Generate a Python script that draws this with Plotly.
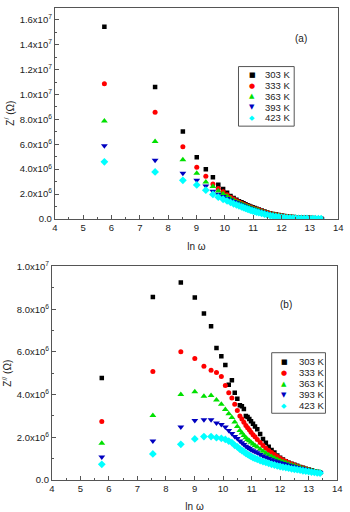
import plotly.graph_objects as go

# ln(omega) positions (shared by every series)
ln_omega = [5.75, 7.54, 8.52, 9.01, 9.33, 9.58, 9.77, 9.94, 10.08, 10.20, 10.31, 10.41,
            10.50, 10.59, 10.66, 10.73, 10.80, 10.86, 10.92, 10.98, 11.05, 11.12, 11.20,
            11.3, 11.4, 11.5, 11.6, 11.7, 11.8, 11.9, 12.0, 12.1, 12.2, 12.3, 12.4, 12.5,
            12.6, 12.7, 12.8, 12.9, 13.0, 13.1, 13.2, 13.3, 13.4]

temps = ["303 K", "333 K", "363 K", "393 K", "423 K"]

# (a) Z' in units of 1e6 Ohm
zr_303 = [15.45, 10.6, 7.03, 4.96, 3.99, 3.36, 2.75, 2.40, 2.10, 1.85, 1.68, 1.55, 1.43, 1.33, 1.25,
          1.17, 1.10, 1.04, 0.98, 0.93, 0.87, 0.81, 0.75, 0.67, 0.59, 0.52, 0.46, 0.40, 0.35, 0.31,
          0.27, 0.24, 0.21, 0.18, 0.16, 0.14, 0.12, 0.11, 0.10, 0.09, 0.08, 0.07, 0.06, 0.05, 0.04]
zr_333 = [10.86, 8.58, 5.80, 4.15, 3.44, 2.81, 2.45, 2.18, 1.95, 1.75, 1.60, 1.47, 1.36, 1.26, 1.18,
          1.11, 1.04, 0.98, 0.93, 0.88, 0.82, 0.77, 0.71, 0.63, 0.56, 0.49, 0.43, 0.38, 0.33, 0.29,
          0.25, 0.22, 0.19, 0.17, 0.15, 0.13, 0.11, 0.10, 0.09, 0.08, 0.07, 0.06, 0.05, 0.04, 0.04]
zr_363 = [7.87, 6.22, 4.75, 3.67, 2.97, 2.60, 2.25, 2.02, 1.83, 1.65, 1.51, 1.39, 1.29, 1.20, 1.12,
          1.05, 0.99, 0.93, 0.88, 0.83, 0.78, 0.73, 0.67, 0.60, 0.53, 0.46, 0.40, 0.35, 0.31, 0.27,
          0.23, 0.20, 0.17, 0.15, 0.13, 0.11, 0.10, 0.09, 0.08, 0.07, 0.06, 0.05, 0.05, 0.04, 0.03]
zr_393 = [5.88, 4.72, 3.67, 3.10, 2.65, 2.23, 1.98, 1.80, 1.65, 1.52, 1.40, 1.30, 1.20, 1.12, 1.05,
          0.98, 0.92, 0.87, 0.82, 0.77, 0.72, 0.67, 0.62, 0.55, 0.49, 0.43, 0.37, 0.32, 0.28, 0.24,
          0.21, 0.18, 0.16, 0.14, 0.12, 0.10, 0.09, 0.08, 0.07, 0.06, 0.05, 0.05, 0.04, 0.03, 0.03]
zr_423 = [4.59, 3.78, 3.10, 2.73, 2.31, 1.97, 1.75, 1.58, 1.45, 1.33, 1.22, 1.13, 1.05, 0.97, 0.91,
          0.85, 0.79, 0.74, 0.69, 0.65, 0.60, 0.55, 0.50, 0.44, 0.38, 0.32, 0.27, 0.22, 0.19, 0.16,
          0.13, 0.11, 0.09, 0.08, 0.07, 0.06, 0.05, 0.05, 0.04, 0.04, 0.03, 0.03, 0.02, 0.02, 0.02]

# (b) Z'' in units of 1e6 Ohm
zi_303 = [4.78, 8.57, 9.25, 8.55, 7.80, 7.20, 6.18, 5.79, 5.38, 4.46, 4.67, 4.08, 3.80, 3.50, 3.45,
          3.32, 3.00, 2.95, 2.86, 2.75, 2.63, 2.50, 2.38, 2.15, 1.92, 1.74, 1.55, 1.40, 1.28, 1.15,
          1.04, 0.96, 0.88, 0.81, 0.76, 0.71, 0.66, 0.61, 0.57, 0.52, 0.49, 0.45, 0.41, 0.38, 0.35]
zi_333 = [2.74, 5.08, 6.00, 5.69, 5.33, 5.14, 5.03, 4.85, 4.42, 4.08, 3.84, 3.55, 3.25, 3.00, 2.85,
          2.70, 2.55, 2.45, 2.35, 2.24, 2.12, 2.02, 1.90, 1.75, 1.61, 1.49, 1.38, 1.28, 1.19, 1.10,
          1.02, 0.94, 0.87, 0.80, 0.75, 0.70, 0.64, 0.60, 0.56, 0.51, 0.47, 0.43, 0.39, 0.36, 0.33]
zi_363 = [1.72, 3.02, 4.00, 4.13, 3.92, 3.95, 3.75, 3.55, 3.30, 3.10, 2.92, 2.72, 2.50, 2.32, 2.20,
          2.08, 1.98, 1.90, 1.84, 1.76, 1.68, 1.61, 1.54, 1.44, 1.34, 1.25, 1.17, 1.10, 1.03, 0.96,
          0.90, 0.85, 0.80, 0.75, 0.70, 0.66, 0.62, 0.58, 0.54, 0.50, 0.47, 0.44, 0.41, 0.38, 0.36]
zi_393 = [1.08, 1.83, 2.48, 2.78, 2.82, 2.82, 2.67, 2.60, 2.48, 2.32, 2.18, 2.04, 1.94, 1.82, 1.74,
          1.66, 1.58, 1.52, 1.47, 1.42, 1.37, 1.32, 1.27, 1.19, 1.12, 1.06, 1.00, 0.95, 0.90, 0.85,
          0.81, 0.77, 0.73, 0.69, 0.65, 0.62, 0.58, 0.55, 0.52, 0.49, 0.46, 0.43, 0.40, 0.37, 0.35]
zi_423 = [0.73, 1.22, 1.67, 1.92, 2.03, 2.03, 1.98, 1.95, 1.90, 1.82, 1.75, 1.62, 1.55, 1.44, 1.38,
          1.32, 1.25, 1.20, 1.15, 1.10, 1.05, 1.01, 0.97, 0.91, 0.86, 0.82, 0.78, 0.73, 0.70, 0.66,
          0.63, 0.60, 0.58, 0.55, 0.52, 0.50, 0.48, 0.46, 0.43, 0.41, 0.39, 0.37, 0.35, 0.33, 0.32]

x_ticks = [4, 5, 6, 7, 8, 9, 10, 11, 12, 13, 14]
ya_tickvals = [0, 2e6, 4e6, 6e6, 8e6, 1e7, 1.2e7, 1.4e7, 1.6e7]
ya_ticktext = ["0.0", "2.0x10<sup>6</sup>", "4.0x10<sup>6</sup>", "6.0x10<sup>6</sup>",
               "8.0x10<sup>6</sup>", "1.0x10<sup>7</sup>", "1.2x10<sup>7</sup>",
               "1.4x10<sup>7</sup>", "1.6x10<sup>7</sup>"]
yb_tickvals = [0, 2e6, 4e6, 6e6, 8e6, 1e7]
yb_ticktext = ["0.0", "2.0x10<sup>6</sup>", "4.0x10<sup>6</sup>", "6.0x10<sup>6</sup>",
               "8.0x10<sup>6</sup>", "1.0x10<sup>7</sup>"]

colors = ["#000000", "#ff0000", "#00e000", "#0000c0", "#00ffff"]
symbols = ["square", "circle", "triangle-up", "triangle-down", "diamond"]
glyphs = ["■", "●", "▲", "▼", "◆"]
sizes = [4.5, 5, 6, 6, 6]

series_a = [zr_303, zr_333, zr_363, zr_393, zr_423]
series_b = [zi_303, zi_333, zi_363, zi_393, zi_423]

fig = go.Figure()
for i, t in enumerate(temps):
    fig.add_trace(go.Scatter(
        x=ln_omega, y=[v * 1e6 for v in series_a[i]], mode="markers", name=t,
        marker=dict(symbol=symbols[i], color=colors[i], size=sizes[i], line=dict(width=0)),
        xaxis="x", yaxis="y", showlegend=False))
for i, t in enumerate(temps):
    fig.add_trace(go.Scatter(
        x=ln_omega, y=[v * 1e6 for v in series_b[i]], mode="markers", name=t,
        marker=dict(symbol=symbols[i], color=colors[i], size=sizes[i], line=dict(width=0)),
        xaxis="x2", yaxis="y2", showlegend=False))

W, H = 350, 512
FAM = "Liberation Sans, Arial, sans-serif"
font = dict(family=FAM, size=9.5, color="#222")
axis_common = dict(showline=True, mirror=True, linecolor="#555", linewidth=1,
                   ticks="inside", ticklen=4, tickcolor="#555", showgrid=False,
                   zeroline=False, tickfont=font)

annotations = [
    dict(text="(a)", x=305 / W, y=1 - 32 / H, xref="paper", yref="paper", xanchor="center",
         yanchor="middle", showarrow=False, font=dict(family=FAM, size=10, color="#222")),
    dict(text="(b)", x=290 / W, y=1 - 305 / H, xref="paper", yref="paper", xanchor="center",
         yanchor="middle", showarrow=False, font=dict(family=FAM, size=10, color="#222")),
]
shapes = []

# legend boxes (px): (left, top, right, bottom, symbol x, text x, first row y, row step)
legend_boxes = [(241, 61, 298, 122, 255, 266, 69.5, 11.0),
                (275, 354, 330, 416, 288, 301, 363.5, 11.2)]
for (l, t, r, b, sx, tx, ry, step) in legend_boxes:
    shapes.append(dict(type="rect", xref="paper", yref="paper",
                       x0=l / W, x1=r / W, y0=1 - b / H, y1=1 - t / H,
                       line=dict(color="#555", width=1), fillcolor="white", layer="above"))
    for i, t_name in enumerate(temps):
        yy = 1 - (ry + i * step) / H
        annotations.append(dict(text=glyphs[i], x=sx / W, y=yy, xref="paper", yref="paper",
                                xanchor="center", yanchor="middle", showarrow=False,
                                font=dict(family="DejaVu Sans", size=7, color=colors[i])))
        annotations.append(dict(text=t_name, x=tx / W, y=yy, xref="paper", yref="paper",
                                xanchor="left", yanchor="middle", showarrow=False,
                                font=dict(family=FAM, size=9.5, color="#222")))

fig.update_layout(
    width=W, height=H, margin=dict(l=0, r=0, t=0, b=0),
    paper_bgcolor="white", plot_bgcolor="white", font=font, showlegend=False,
    xaxis=dict(domain=[53 / W, 343 / W], range=[4, 14], tickvals=x_ticks,
               minor=dict(dtick=0.5, tick0=4, ticks="inside", ticklen=2, tickcolor="#555"),
               anchor="y", title=dict(text="ln ω", font=dict(family=FAM, size=10), standoff=10),
               **axis_common),
    yaxis=dict(domain=[1 - 217 / H, 0.999], range=[0, 1.7e7], tickvals=ya_tickvals,
               ticktext=ya_ticktext,
               minor=dict(tickvals=[1e6, 3e6, 5e6, 7e6, 9e6, 1.1e7, 1.3e7, 1.5e7],
                          ticks="inside", ticklen=2, tickcolor="#555"),
               anchor="x", title=dict(text="Z<sup>/</sup> (Ω)", font=dict(family=FAM, size=10),
                                      standoff=3),
               **axis_common),
    xaxis2=dict(domain=[50 / W, 342 / W], range=[4, 14], tickvals=x_ticks,
                minor=dict(dtick=0.5, tick0=4, ticks="inside", ticklen=2, tickcolor="#555"),
                anchor="y2", title=dict(text="ln ω", font=dict(family=FAM, size=10), standoff=10),
                **axis_common),
    yaxis2=dict(domain=[1 - 484.3 / H, 1 - 265.7 / H], range=[0, 1e7], tickvals=yb_tickvals,
                ticktext=yb_ticktext,
                minor=dict(tickvals=[1e6, 3e6, 5e6, 7e6, 9e6],
                           ticks="inside", ticklen=2, tickcolor="#555"),
                anchor="x2", title=dict(text="Z<sup>//</sup> (Ω)", font=dict(family=FAM, size=10),
                                        standoff=3),
                **axis_common),
    annotations=annotations,
    shapes=shapes,
)

fig.write_html("out.html")
